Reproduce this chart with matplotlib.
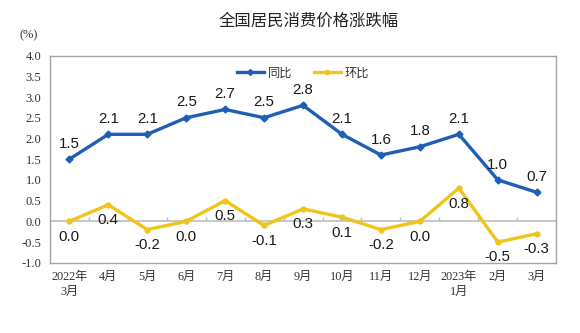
import numpy as np
import matplotlib
matplotlib.use('Agg')
import matplotlib.pyplot as plt
from matplotlib.lines import Line2D

months = ['2022年\n3月', '4月', '5月', '6月', '7月', '8月', '9月', '10月',
          '11月', '12月', '2023年\n1月', '2月', '3月']
yoy = [1.5, 2.1, 2.1, 2.5, 2.7, 2.5, 2.8, 2.1, 1.6, 1.8, 2.1, 1.0, 0.7]
mom = [0.0, 0.4, -0.2, 0.0, 0.5, -0.1, 0.3, 0.1, -0.2, 0.0, 0.8, -0.5, -0.3]
yticks = [-1.0, -0.5, 0.0, 0.5, 1.0, 1.5, 2.0, 2.5, 3.0, 3.5, 4.0]

blue = '#1E5EB4'
yellow = '#F0C419'
cjk = ['Noto Sans CJK SC', 'DejaVu Sans']
serif = ['Liberation Serif', 'Noto Sans CJK SC']
num = ['Liberation Sans', 'DejaVu Sans']

fig = plt.figure(figsize=(5.8, 3.33), dpi=100)
ax = fig.add_axes([0.086, 0.211, 0.873, 0.622])
x = np.arange(len(months))

# zero line with little category ticks
ax.axhline(0, color='#BEBEBE', lw=1.2, zorder=1)
ax.vlines(x[:-1] + 0.5, 0, 0.1, color='#BEBEBE', lw=1, zorder=1)

ax.plot(x, yoy, color=blue, lw=2.4, marker='D', ms=3.5, zorder=3)
ax.plot(x, mom, color=yellow, lw=2.4, marker='o', ms=3.5, zorder=3)

for xi, v in zip(x, yoy):
    ax.annotate('%.1f' % v, (xi, v), xytext=(0, 6), textcoords='offset points',
                ha='center', va='bottom', fontsize=10.8, family=num, color='#1a1a1a')
for xi, v in zip(x, mom):
    ax.annotate('%.1f' % v, (xi, v), xytext=(0, -6), textcoords='offset points',
                ha='center', va='top', fontsize=10.8, family=num, color='#1a1a1a')

ax.set_xlim(-0.5, len(months) - 0.5)
ax.set_ylim(-1.0, 4.0)
ax.set_yticks(yticks)
ax.set_yticklabels(['%.1f' % t for t in yticks], family=serif, fontsize=9, color='#333333')
ax.set_xticks(x)
ax.set_xticklabels(months, family=serif, fontsize=8.8, color='#333333', linespacing=1.3)
ax.tick_params(length=0, pad=6)
for s in ax.spines.values():
    s.set_color('#A6A6A6')
    s.set_linewidth(1)

handles = [Line2D([], [], color=blue, lw=2.4, marker='D', ms=3),
           Line2D([], [], color=yellow, lw=2.4, marker='o', ms=3)]
ax.legend(handles, ['同比', '环比'], loc='upper center', bbox_to_anchor=(0.5, 1.0),
          ncol=2, frameon=False, prop={'family': cjk, 'size': 8.8},
          handlelength=2.2, handletextpad=0.3, columnspacing=1.8,
          labelcolor='#333333')

fig.text(0.532, 0.935, '全国居民消费价格涨跌幅', ha='center', va='center',
         fontsize=11.8, family=cjk, color='#222222')
fig.text(0.05, 0.895, '(%)', ha='center', va='center', fontsize=9,
         family=serif, color='#333333')

fig.savefig('out.png', dpi=100, facecolor='white')
